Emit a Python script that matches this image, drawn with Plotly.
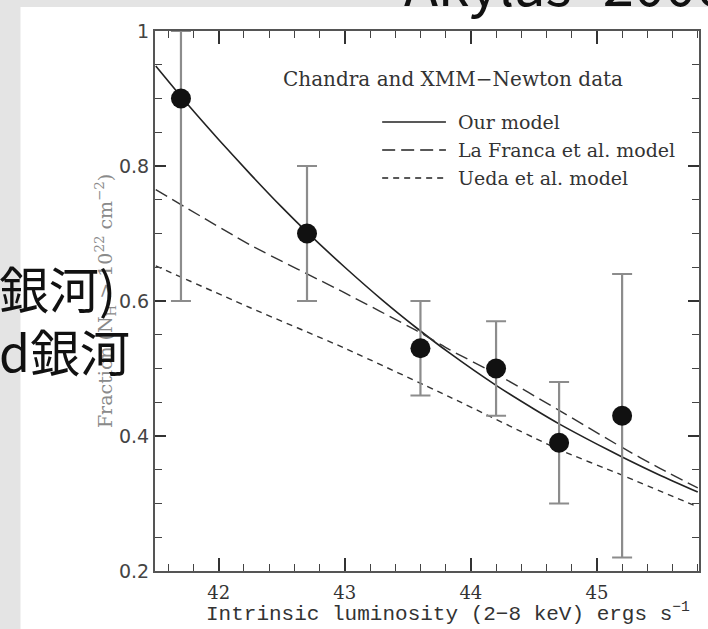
import plotly.graph_objects as go

# ---- data ----
lum = [41.7, 42.7, 43.6, 44.2, 44.7, 45.2]
frac = [0.90, 0.70, 0.53, 0.50, 0.39, 0.43]
frac_hi = [1.00, 0.80, 0.60, 0.57, 0.48, 0.64]
frac_lo = [0.60, 0.60, 0.46, 0.43, 0.30, 0.22]

our_x = [41.5, 41.7, 42.0, 42.25, 42.5, 42.7, 43.0, 43.3, 43.57, 43.83, 44.2, 44.5, 44.7, 45.0, 45.2, 45.5, 45.8]
our_y = [0.948, 0.903, 0.839, 0.788, 0.739, 0.702, 0.650, 0.601, 0.560, 0.523, 0.475, 0.440, 0.418, 0.388, 0.369, 0.342, 0.317]

lafranca_x = [41.5, 42.25, 43.0, 43.57, 43.83, 44.2, 44.7, 45.2, 45.5, 45.8]
lafranca_y = [0.765, 0.683, 0.612, 0.556, 0.528, 0.492, 0.438, 0.383, 0.352, 0.323]

ueda_x = [41.5, 42.25, 43.0, 43.83, 44.7, 45.2, 45.8]
ueda_y = [0.652, 0.590, 0.530, 0.458, 0.380, 0.342, 0.295]

x_ticks = [42, 43, 44, 45]
y_ticks = [0.2, 0.4, 0.6, 0.8, 1.0]
y_ticktext = ["0.2", "0.4", "0.6", "0.8", "1"]

x_title = "Intrinsic luminosity (2\u22128 keV) ergs s<sup>\u22121</sup>"
y_title = "Fraction (N<sub>H</sub> > 10<sup>22</sup> cm<sup>\u22122</sup>)"
legend_title = "Chandra and XMM\u2212Newton data"
legend_names = ["Our model", "La Franca et al. model", "Ueda et al. model"]

# ---- layout geometry (pixels) ----
W, H = 708, 629
L, R, T, B = 155, 701, 31, 571


def px(x):
    return (x - L) / (R - L)


def py(y):
    return (B - y) / (B - T)


SERIF = "DejaVu Serif"
MONO = "Liberation Mono"
fig = go.Figure()

fig.add_trace(go.Scatter(x=our_x, y=our_y, mode="lines",
                         line=dict(color="#222222", width=1.6, shape="spline", smoothing=0.6),
                         showlegend=False))
fig.add_trace(go.Scatter(x=lafranca_x, y=lafranca_y, mode="lines",
                         line=dict(color="#333333", width=1.4, dash="13px,6px", shape="spline", smoothing=0.6),
                         showlegend=False))
fig.add_trace(go.Scatter(x=ueda_x, y=ueda_y, mode="lines",
                         line=dict(color="#333333", width=1.4, dash="6px,5px", shape="spline", smoothing=0.6),
                         showlegend=False))

fig.add_trace(go.Scatter(
    x=lum, y=frac, mode="markers",
    marker=dict(color="#111111", size=20, line=dict(width=0)),
    error_y=dict(type="data", symmetric=False,
                 array=[h - v for h, v in zip(frac_hi, frac)],
                 arrayminus=[v - l for l, v in zip(frac_lo, frac)],
                 color="#8c8c8c", thickness=2.2, width=10),
    showlegend=False, cliponaxis=False))

# white slide panel behind the chart
fig.add_shape(type="rect", xref="paper", yref="paper", layer="below",
              x0=px(20), x1=px(760), y0=py(700), y1=py(7),
              fillcolor="white", line=dict(width=0))

# legend drawn inside the plot
fig.add_annotation(xref="paper", yref="paper", x=px(281), y=py(79), xanchor="left", yanchor="middle",
                   text=legend_title, showarrow=False,
                   font=dict(family=SERIF, size=20, color="#333333"))
leg_y = [122, 150, 178]
leg_dash = ["solid", "13px,6px", "6px,5px"]
for name, yy, dsh in zip(legend_names, leg_y, leg_dash):
    fig.add_shape(type="line", xref="paper", yref="paper",
                  x0=px(383), x1=px(447), y0=py(yy), y1=py(yy),
                  line=dict(color="#222222", width=1.5, dash=dsh))
    fig.add_annotation(xref="paper", yref="paper", x=px(457), y=py(yy), xanchor="left", yanchor="middle",
                       text=name, showarrow=False,
                       font=dict(family=SERIF, size=19, color="#333333"))

# x axis title (placed as in the picture, slightly right of centre)
fig.add_annotation(xref="paper", yref="paper", x=px(449), y=py(612), xanchor="center", yanchor="middle",
                   text=x_title, showarrow=False,
                   font=dict(family=MONO, size=21, color="#333333"))

# slide texts overlapping the chart
fig.add_annotation(xref="paper", yref="paper", x=px(-4), y=py(287), xanchor="left", yanchor="middle",
                   text="銀河)", showarrow=False,
                   font=dict(family="Noto Sans CJK JP", size=50, color="#111111"))
fig.add_annotation(xref="paper", yref="paper", x=px(-4), y=py(350), xanchor="left", yanchor="middle",
                   text="d銀河", showarrow=False,
                   font=dict(family="Noto Sans CJK JP", size=50, color="#111111"))
fig.add_annotation(xref="paper", yref="paper", x=px(403), y=py(24), xanchor="left", yanchor="bottom",
                   text="Akylas+2006", showarrow=False,
                   font=dict(family="Noto Sans CJK JP", size=56, color="#111111"))

axis_common = dict(showline=True, linecolor="#555555", linewidth=2, mirror="ticks",
                   ticks="inside", tickcolor="#333333", showgrid=False, zeroline=False)

fig.update_xaxes(range=[41.494, 45.81], tickvals=x_ticks, ticklen=13, tickwidth=1.5,
                 minor=dict(dtick=0.2, tick0=42, ticks="inside", ticklen=7, tickcolor="#444444", tickwidth=1.3),
                 tickfont=dict(family=SERIF, size=18, color="#333333"), ticklabelstandoff=4,
                 **axis_common)
fig.update_yaxes(range=[0.2, 1.0], tickvals=y_ticks, ticktext=y_ticktext, ticklen=11, tickwidth=1.5,
                 minor=dict(dtick=0.05, tick0=0.2, ticks="inside", ticklen=7, tickcolor="#444444", tickwidth=1.3),
                 tickfont=dict(family="DejaVu Sans", size=19, color="#444444"),
                 title=dict(text=y_title, font=dict(family=SERIF, size=19, color="#8a8a8a"), standoff=0),
                 **axis_common)

fig.update_layout(width=W, height=H, margin=dict(l=L, r=W - R, t=T, b=H - B, pad=0),
                  paper_bgcolor="#e4e4e4", plot_bgcolor="rgba(0,0,0,0)", showlegend=False)

fig.write_html("out.html")
